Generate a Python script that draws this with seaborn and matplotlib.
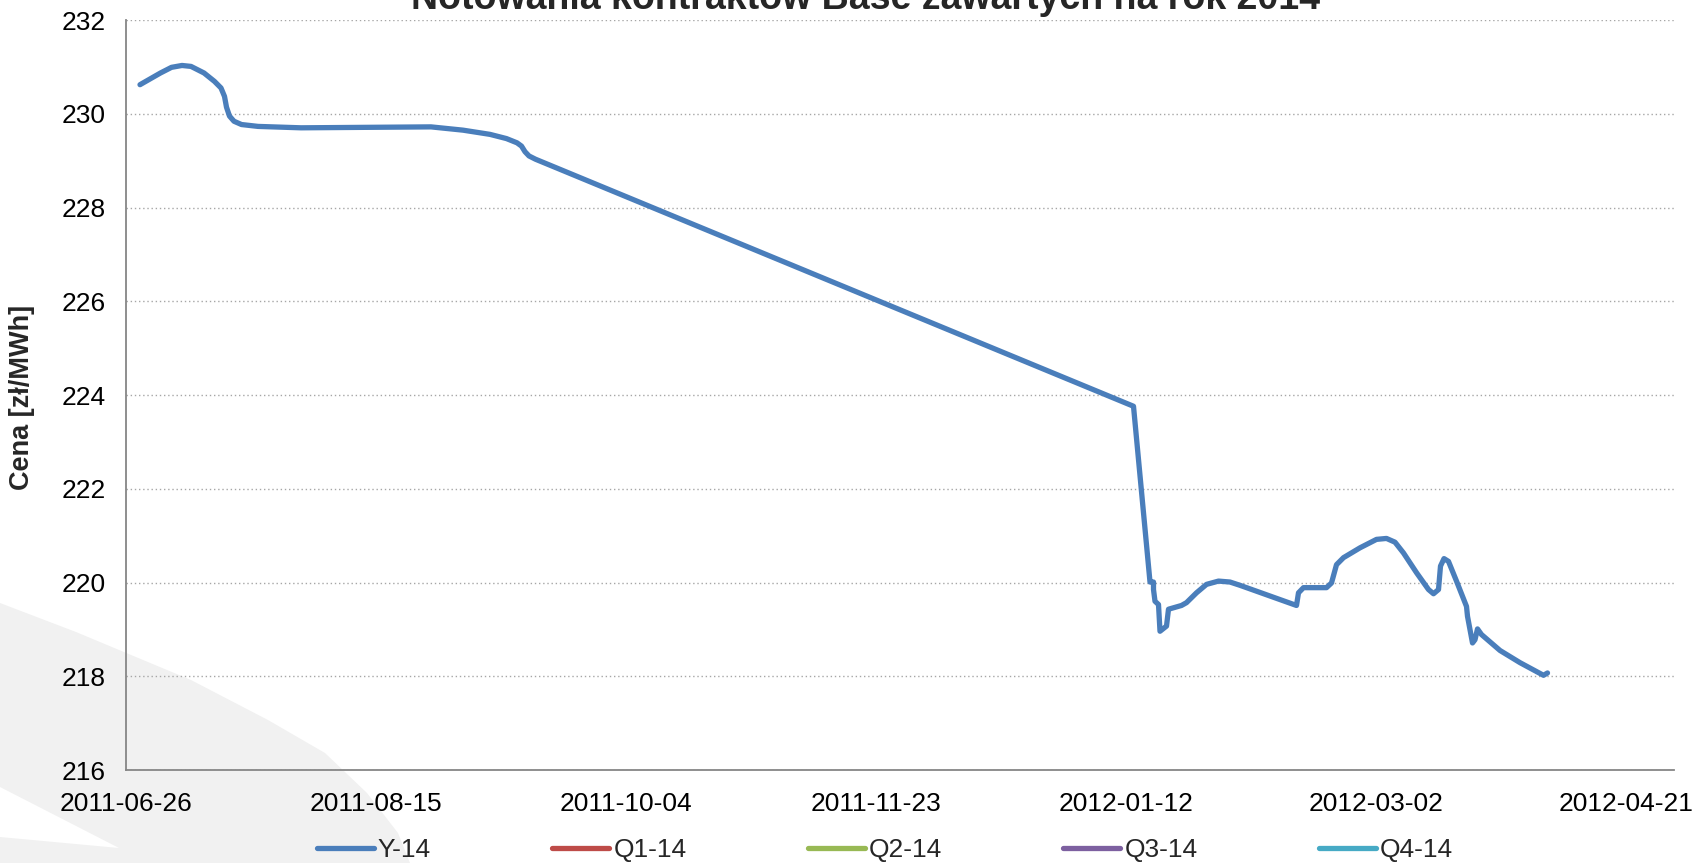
import pandas as pd
import numpy as np
import seaborn as sns
import matplotlib.pyplot as plt
import matplotlib.dates as mdates
from matplotlib.patches import Polygon

start = pd.Timestamp("2011-06-26")

# notowania Y-14: dni od 2011-06-26 i cena [zl/MWh]
days_y14 = [
    2.8, 6.9, 9.1, 11.2, 13.0, 15.6, 17.7, 19.0, 19.7, 20.1,
    20.7, 21.6, 23.1, 26.4, 35.0, 61.0, 67.4, 72.8, 76.1, 78.2,
    79.1, 79.8, 80.6, 81.9, 201.5, 204.8, 205.5, 205.5, 205.8, 206.5,
    206.8, 208.1, 208.5, 211.1, 212.1, 214.1, 216.1, 218.5, 220.8, 222.8,
    234.1, 234.5, 235.5, 240.1, 241.1, 242.1, 243.5, 246.8, 250.1, 252.1,
    253.8, 255.5, 258.1, 260.5, 261.5, 262.5, 262.9, 263.6, 264.5, 266.1,
    268.1, 268.3, 269.3, 269.8, 270.3, 271.1, 274.8, 278.8, 283.5, 284.3,
]
values_y14 = [
    230.62, 230.87, 230.99, 231.03, 231.01, 230.87, 230.69, 230.55, 230.37, 230.14,
    229.95, 229.84, 229.77, 229.73, 229.70, 229.72, 229.65, 229.56, 229.47, 229.38,
    229.31, 229.19, 229.10, 229.03, 223.76, 220.01, 220.01, 219.85, 219.60, 219.53,
    218.96, 219.07, 219.43, 219.51, 219.57, 219.78, 219.96, 220.03, 220.01, 219.94,
    219.51, 219.78, 219.89, 219.89, 219.99, 220.38, 220.53, 220.74, 220.92, 220.94,
    220.86, 220.63, 220.21, 219.85, 219.76, 219.85, 220.35, 220.51, 220.45, 220.03,
    219.49, 219.28, 218.71, 218.78, 219.01, 218.89, 218.55, 218.29, 218.02, 218.07,
]
# pozostale kontrakty - brak notowan
days_q1, values_q1 = [], []
days_q2, values_q2 = [], []
days_q3, values_q3 = [], []
days_q4, values_q4 = [], []

series_names = ["Y-14", "Q1-14", "Q2-14", "Q3-14", "Q4-14"]
series_colors = ["#4A7EBB", "#BE4B48", "#98B954", "#7D60A0", "#46AAC5"]
xtick_labels = ["2011-06-26", "2011-08-15", "2011-10-04", "2011-11-23",
                "2012-01-12", "2012-03-02", "2012-04-21"]
ytick_values = [216, 218, 220, 222, 224, 226, 228, 230, 232]

df = pd.DataFrame({"data": start + pd.to_timedelta(days_y14, unit="D"),
                   "cena": values_y14})

sns.set_style("white")
plt.rcParams["font.family"] = ["Liberation Sans", "DejaVu Sans"]

W, H = 1692, 863
fig = plt.figure(figsize=(W / 100, H / 100), dpi=100)

# jasnoszare tlo w lewym dolnym rogu
swoosh = [(0, 603), (76, 632), (191, 680), (268, 720), (325, 753), (367, 793),
          (398, 833), (410, 863), (0, 863)]
fig.patches.append(Polygon([(x / W, 1 - y / H) for x, y in swoosh], closed=True,
                           transform=fig.transFigure, facecolor="#f1f1f1",
                           edgecolor="none", zorder=-2))
band = [(0, 787), (119, 848), (0, 837)]
fig.patches.append(Polygon([(x / W, 1 - y / H) for x, y in band], closed=True,
                           transform=fig.transFigure, facecolor="white",
                           edgecolor="none", zorder=-1))

ax = fig.add_axes([126 / W, 1 - 770 / H, (1674 - 126) / W, 750 / H])
ax.set_facecolor("none")

sns.lineplot(data=df, x="data", y="cena", estimator=None, sort=False,
             color=series_colors[0], linewidth=3.8, ax=ax, legend=False)
for ln in ax.lines:
    ln.set_solid_joinstyle("round")
    ln.set_solid_capstyle("round")
handles = [ax.lines[0]]
for (d, v), c in zip([(days_q1, values_q1), (days_q2, values_q2),
                      (days_q3, values_q3), (days_q4, values_q4)], series_colors[1:]):
    h, = ax.plot(start + pd.to_timedelta(d, unit="D"), v, color=c, linewidth=3.8,
                 solid_capstyle="round")
    handles.append(h)

x0 = mdates.date2num(start)
ax.set_xlim(x0, x0 + 309.6)
ax.set_ylim(216, 232)
ax.set_xticks([mdates.date2num(pd.Timestamp(t)) for t in xtick_labels])
ax.set_xticklabels(xtick_labels)
ax.set_yticks(ytick_values)
ax.set_yticklabels([str(v) for v in ytick_values])

ax.yaxis.grid(True, color="#a6a6a6", linestyle=(0, (1, 2)), linewidth=1.0)
ax.xaxis.grid(False)
ax.set_axisbelow(True)
for s in ["top", "right"]:
    ax.spines[s].set_visible(False)
for s in ["left", "bottom"]:
    ax.spines[s].set_color("#868686")
    ax.spines[s].set_linewidth(1.3)
ax.tick_params(axis="both", direction="out", length=5.5, width=1.2,
               color="#868686", labelsize=19, labelcolor="black")
ax.tick_params(axis="y", pad=9)
ax.tick_params(axis="x", pad=10)

ax.set_xlabel("")
ax.set_ylabel("")
fig.text(22 / W, 1 - 397 / H, "Cena [zł/MWh]", rotation=90, ha="center", va="center",
         fontsize=19.5, fontweight="bold")
fig.text(866 / W, 1 - 9 / H, "Notowania kontraktów Base zawartych na rok 2014",
         ha="center", va="baseline", fontsize=27, fontweight="bold")

fig.legend(handles, series_names, loc="center", bbox_to_anchor=(885 / W, 1 - 850 / H),
           ncol=5, frameon=False, fontsize=19, handlelength=2.16, handletextpad=0.15,
           columnspacing=4.6, borderaxespad=0, borderpad=0)

fig.savefig("out.png", dpi=100)
